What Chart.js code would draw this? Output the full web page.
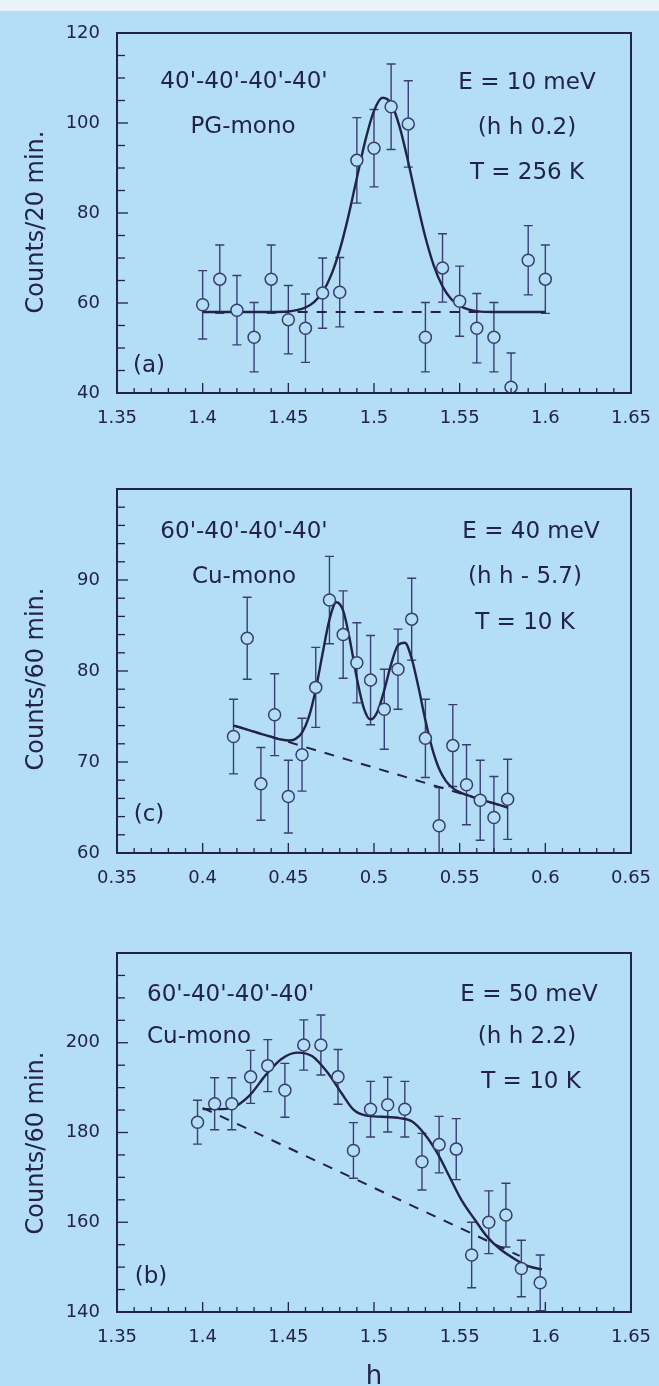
<!DOCTYPE html>
<html>
<head>
<title>Counts vs h</title>
<script src="https://cdn.jsdelivr.net/npm/chart.js@4.4.0/dist/chart.umd.min.js"></script>
<style>
  html, body { margin: 0; padding: 0; }
  body { width: 659px; height: 1386px; background: #b4def5; position: relative; overflow: hidden; }
  .strip { position: absolute; left: 0; top: 0; width: 659px; height: 11px; background: #e8f3fa; }
  canvas { position: absolute; left: 0; }
</style>
</head>
<body>
<div class="strip"></div>
<canvas id="chartA" width="659" height="460" style="top:0px"></canvas>
<canvas id="chartC" width="659" height="440" style="top:460px"></canvas>
<canvas id="chartB" width="659" height="486" style="top:900px"></canvas>
<script>
// panel (a): E = 10 meV, PG mono
var hA = [1.40, 1.41, 1.42, 1.43, 1.44, 1.45, 1.46, 1.47, 1.48, 1.49, 1.50, 1.51, 1.52, 1.53, 1.54, 1.55, 1.56, 1.57, 1.58, 1.59, 1.60];
var countsA = [59.6, 65.3, 58.4, 52.4, 65.3, 56.3, 54.4, 62.2, 62.4, 91.7, 94.4, 103.6, 99.8, 52.4, 67.8, 60.4, 54.4, 52.4, 41.3, 69.5, 65.3];
var errA = [7.6, 7.6, 7.7, 7.7, 7.6, 7.6, 7.6, 7.8, 7.7, 9.5, 8.6, 9.5, 9.6, 7.7, 7.6, 7.8, 7.7, 7.7, 7.6, 7.7, 7.6];
var fitHA = [1.40, 1.42, 1.44, 1.45, 1.455, 1.46, 1.465, 1.47, 1.475, 1.48, 1.485, 1.49, 1.495, 1.50, 1.505, 1.51, 1.515, 1.52, 1.525, 1.53, 1.535, 1.54, 1.545, 1.55, 1.555, 1.56, 1.57, 1.58, 1.60];
var fitA = [58.0, 58.0, 58.0, 58.1, 58.4, 59.0, 60.2, 62.4, 66.2, 71.8, 79.2, 87.8, 96.2, 102.7, 105.6, 104.3, 99.1, 91.3, 82.6, 74.6, 68.2, 63.7, 60.9, 59.4, 58.6, 58.2, 58.0, 58.0, 58.0];
var bgHA = [1.40, 1.60];
var bgA = [58.0, 58.0];
var xTicksA = [1.35, 1.40, 1.45, 1.50, 1.55, 1.60, 1.65];
var yTicksA = [40, 60, 80, 100, 120];

// panel (c): E = 40 meV, Cu mono
var hC = [0.418, 0.426, 0.434, 0.442, 0.450, 0.458, 0.466, 0.474, 0.482, 0.490, 0.498, 0.506, 0.514, 0.522, 0.530, 0.538, 0.546, 0.554, 0.562, 0.570, 0.578];
var countsC = [72.8, 83.6, 67.6, 75.2, 66.2, 70.8, 78.2, 87.8, 84.0, 80.9, 79.0, 75.8, 80.2, 85.7, 72.6, 63.0, 71.8, 67.5, 65.8, 63.9, 65.9];
var errC = [4.1, 4.5, 4.0, 4.5, 4.0, 4.0, 4.4, 4.8, 4.8, 4.4, 4.9, 4.4, 4.4, 4.5, 4.3, 4.2, 4.5, 4.4, 4.4, 4.5, 4.4];
var fitHC = [0.418, 0.422, 0.426, 0.430, 0.434, 0.438, 0.442, 0.446, 0.450, 0.454, 0.458, 0.462, 0.466, 0.470, 0.474, 0.478, 0.482, 0.486, 0.490, 0.494, 0.498,
             0.502, 0.506, 0.510, 0.514, 0.518, 0.522, 0.526, 0.530, 0.534, 0.538, 0.542, 0.546, 0.550, 0.554, 0.558, 0.562, 0.566, 0.570, 0.574, 0.578];
var fitC = [74.0, 73.8, 73.55, 73.33, 73.1, 72.88, 72.66, 72.47, 72.36, 72.51, 73.23, 74.96, 77.97, 81.93, 85.65, 87.55, 86.63, 83.33, 79.19, 75.96, 74.68,
            75.53, 77.9, 80.76, 82.83, 83.11, 81.37, 78.18, 74.58, 71.47, 69.25, 67.9, 67.13, 66.69, 66.38, 66.13, 65.9, 65.68, 65.45, 65.23, 65.0];
var bgHC = [0.418, 0.578];
var bgC = [74.0, 65.0];
var xTicksC = [0.35, 0.40, 0.45, 0.50, 0.55, 0.60, 0.65];
var yTicksC = [60, 70, 80, 90];

// panel (b): E = 50 meV, Cu mono
var hB = [1.397, 1.407, 1.417, 1.428, 1.438, 1.448, 1.459, 1.469, 1.479, 1.488, 1.498, 1.508, 1.518, 1.528, 1.538, 1.548, 1.557, 1.567, 1.577, 1.586, 1.597];
var countsB = [182.3, 186.4, 186.4, 192.4, 194.9, 189.4, 199.5, 199.5, 192.4, 176.0, 185.2, 186.2, 185.2, 173.5, 177.3, 176.3, 152.7, 160.0, 161.6, 149.7, 146.5];
var errB = [4.9, 5.8, 5.8, 5.9, 5.8, 6.0, 5.6, 6.7, 6.1, 6.2, 6.2, 6.1, 6.2, 6.3, 6.3, 6.8, 7.3, 7.0, 7.1, 6.3, 6.2];
var fitHB = [1.400, 1.409, 1.417, 1.427, 1.437, 1.446, 1.455, 1.464, 1.473, 1.481, 1.488, 1.495, 1.505, 1.515, 1.522, 1.529, 1.537, 1.544, 1.551, 1.559, 1.566, 1.573, 1.583, 1.590, 1.598];
var fitB = [185.2, 185.2, 185.5, 188.1, 192.9, 196.4, 197.8, 197.0, 193.3, 188.8, 185.1, 183.8, 183.5, 183.2, 182.5, 179.9, 175.4, 170.2, 165.0, 160.5, 156.8, 154.2, 151.6, 150.2, 149.5];
var bgHB = [1.400, 1.585];
var bgB = [185.5, 152.5];
var xTicksB = [1.35, 1.40, 1.45, 1.50, 1.55, 1.60, 1.65];
var yTicksB = [140, 160, 180, 200];

var ink = '#222347';
var barInk = '#3a3d74';
var paper = '#b4def5';
var face = '"DejaVu Sans", sans-serif';

function pts(xs, ys) {
    return xs.map(function (x, i) { return { x: x, y: ys[i] }; });
}

function panelPlugin(p) {
    return {
        id: 'panel',
        beforeDatasetsDraw: function (chart) {
            var ctx = chart.ctx, xs = chart.scales.x, ys = chart.scales.y, a = chart.chartArea;
            ctx.save();
            ctx.beginPath();
            ctx.rect(a.left, a.top, a.right - a.left, a.bottom - a.top);
            ctx.clip();
            ctx.strokeStyle = barInk;
            ctx.lineWidth = 1.4;
            for (var i = 0; i < p.h.length; i++) {
                var px = xs.getPixelForValue(p.h[i]);
                var t = ys.getPixelForValue(p.y[i] + p.err[i]);
                var b = ys.getPixelForValue(p.y[i] - p.err[i]);
                ctx.beginPath();
                ctx.moveTo(px, t); ctx.lineTo(px, b);
                ctx.moveTo(px - 4.5, t); ctx.lineTo(px + 4.5, t);
                ctx.moveTo(px - 4.5, b); ctx.lineTo(px + 4.5, b);
                ctx.stroke();
            }
            ctx.restore();
        },
        afterDraw: function (chart) {
            var ctx = chart.ctx, xs = chart.scales.x, ys = chart.scales.y, a = chart.chartArea;
            ctx.save();
            ctx.strokeStyle = ink;
            ctx.lineWidth = 2;
            ctx.strokeRect(a.left, a.top, a.right - a.left, a.bottom - a.top);
            ctx.lineWidth = 1.3;
            var n = Math.round((xs.max - xs.min) / p.xMinor);
            for (var k = 1; k < n; k++) {
                var px = xs.getPixelForValue(xs.min + k * p.xMinor);
                var len = (k % p.xEvery === 0) ? 10 : 5;
                ctx.beginPath();
                ctx.moveTo(px, a.bottom); ctx.lineTo(px, a.bottom - len);
                ctx.stroke();
            }
            var m = Math.round((ys.max - ys.min) / p.yMinor);
            for (var j = 1; j < m; j++) {
                var py = ys.getPixelForValue(ys.min + j * p.yMinor);
                var ln = (j % p.yEvery === 0) ? 11 : 8;
                ctx.beginPath();
                ctx.moveTo(a.left, py); ctx.lineTo(a.left + ln, py);
                ctx.stroke();
            }
            ctx.fillStyle = ink;
            ctx.textBaseline = 'middle';
            p.texts.forEach(function (t) {
                ctx.font = (t.size || 23) + 'px ' + face;
                ctx.textAlign = t.align || 'center';
                ctx.fillText(t.s, t.x, t.y);
            });
            ctx.save();
            ctx.font = '24px ' + face;
            ctx.textAlign = 'center';
            ctx.translate(37, p.titleY);
            ctx.rotate(-Math.PI / 2);
            ctx.fillText(p.title, 0, 0);
            ctx.restore();
            ctx.restore();
        }
    };
}

function makePanel(id, p) {
    var canvas = document.getElementById(id);
    var H = canvas.height;
    new Chart(canvas.getContext('2d'), {
        type: 'scatter',
        data: {
            datasets: [
                {
                    data: pts(p.h, p.y),
                    pointRadius: 6,
                    pointBorderWidth: 1.5,
                    pointBorderColor: barInk,
                    pointBackgroundColor: paper,
                    showLine: false,
                    clip: false
                },
                {
                    data: pts(p.fitH, p.fit),
                    showLine: true,
                    borderColor: ink,
                    borderWidth: 2.4,
                    pointRadius: 0,
                    cubicInterpolationMode: 'monotone',
                    fill: false
                },
                {
                    data: pts(p.bgH, p.bg),
                    showLine: true,
                    borderColor: ink,
                    borderWidth: 2,
                    borderDash: [10, 9],
                    pointRadius: 0,
                    fill: false
                }
            ]
        },
        options: {
            responsive: false,
            animation: false,
            events: [],
            layout: { padding: { left: 0, right: 28, top: p.top, bottom: 0 } },
            plugins: { legend: { display: false }, tooltip: { enabled: false } },
            scales: {
                x: {
                    type: 'linear',
                    min: p.xTicks[0],
                    max: p.xTicks[p.xTicks.length - 1],
                    grid: { display: false },
                    border: { display: false },
                    afterBuildTicks: function (s) { s.ticks = p.xTicks.map(function (v) { return { value: v }; }); },
                    afterFit: function (s) { s.height = H - p.bottom; },
                    ticks: {
                        autoSkip: false,
                        maxRotation: 0,
                        padding: 7,
                        color: ink,
                        font: { family: face, size: 18 },
                        callback: function (v) { return String(+v.toFixed(2)); }
                    }
                },
                y: {
                    min: p.yMin,
                    max: p.yMax,
                    grid: { display: false },
                    border: { display: false },
                    afterBuildTicks: function (s) { s.ticks = p.yTicks.map(function (v) { return { value: v }; }); },
                    afterFit: function (s) { s.width = 117; },
                    ticks: {
                        autoSkip: false,
                        padding: 9,
                        color: ink,
                        font: { family: face, size: 18 },
                        callback: function (v) { return String(v); }
                    }
                }
            }
        },
        plugins: [panelPlugin(p)]
    });
}

makePanel('chartA', {
    h: hA, y: countsA, err: errA, fitH: fitHA, fit: fitA, bgH: bgHA, bg: bgA,
    xTicks: xTicksA, yTicks: yTicksA, yMin: 40, yMax: 120,
    top: 33, bottom: 393, xMinor: 0.01, xEvery: 5, yMinor: 5, yEvery: 4,
    title: 'Counts/20 min.', titleY: 222,
    texts: [
        { s: "40'-40'-40'-40'", x: 244, y: 82 },
        { s: 'PG-mono', x: 243, y: 127 },
        { s: 'E = 10 meV', x: 527, y: 83 },
        { s: '(h h 0.2)', x: 527, y: 128 },
        { s: 'T = 256 K', x: 527, y: 173 },
        { s: '(a)', x: 149, y: 366 }
    ]
});

makePanel('chartC', {
    h: hC, y: countsC, err: errC, fitH: fitHC, fit: fitC, bgH: bgHC, bg: bgC,
    xTicks: xTicksC, yTicks: yTicksC, yMin: 60, yMax: 100,
    top: 29, bottom: 393, xMinor: 0.01, xEvery: 5, yMinor: 2, yEvery: 5,
    title: 'Counts/60 min.', titleY: 219,
    texts: [
        { s: "60'-40'-40'-40'", x: 244, y: 72 },
        { s: 'Cu-mono', x: 244, y: 117 },
        { s: 'E = 40 meV', x: 531, y: 72 },
        { s: '(h h - 5.7)', x: 525, y: 117 },
        { s: 'T = 10 K', x: 525, y: 163 },
        { s: '(c)', x: 149, y: 355 }
    ]
});

makePanel('chartB', {
    h: hB, y: countsB, err: errB, fitH: fitHB, fit: fitB, bgH: bgHB, bg: bgB,
    xTicks: xTicksB, yTicks: yTicksB, yMin: 140, yMax: 220,
    top: 53, bottom: 412, xMinor: 0.01, xEvery: 5, yMinor: 5, yEvery: 4,
    title: 'Counts/60 min.', titleY: 243,
    texts: [
        { s: "60'-40'-40'-40'", x: 147, y: 95, align: 'left' },
        { s: 'Cu-mono', x: 147, y: 137, align: 'left' },
        { s: 'E = 50 meV', x: 529, y: 95 },
        { s: '(h h 2.2)', x: 527, y: 137 },
        { s: 'T = 10 K', x: 531, y: 182 },
        { s: '(b)', x: 151, y: 377 },
        { s: 'h', x: 374, y: 477, size: 26 }
    ]
});
</script>
</body>
</html>
